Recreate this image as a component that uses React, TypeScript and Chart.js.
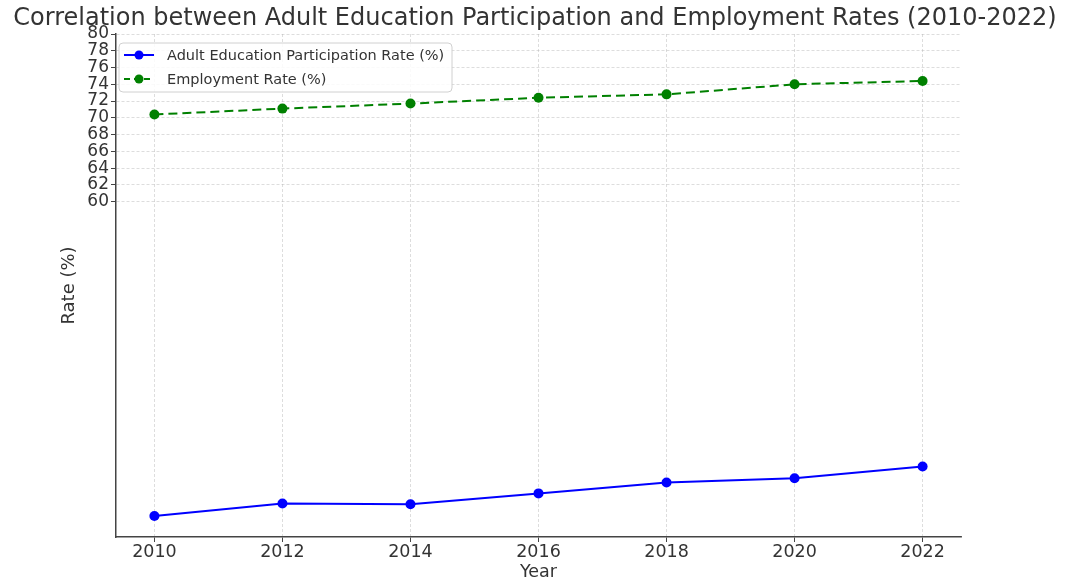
import React, { useEffect, useRef } from 'react';
import { Chart, registerables } from 'chart.js';

Chart.register(...registerables);

const years = [2010, 2012, 2014, 2016, 2018, 2020, 2022];
const educationRate = [22.5, 24.0, 23.9, 25.2, 26.5, 27.0, 28.4];
const employmentRate = [70.4, 71.1, 71.7, 72.4, 72.8, 74.0, 74.4];
const yTickValues = [60, 62, 64, 66, 68, 70, 72, 74, 76, 78, 80];
const xTickValues = [2010, 2012, 2014, 2016, 2018, 2020, 2022];
const seriesLabels = ['Adult Education Participation Rate (%)', 'Employment Rate (%)'];
const chartTitle = 'Correlation between Adult Education Participation and Employment Rates (2010-2022)';

const FONT = '"DejaVu Sans", "Liberation Sans", sans-serif';
const TEXT = '#333333';
const BLUE = '#0000ff';
const GREEN = '#008000';
const GRID = 'rgba(176,176,176,0.55)';

const titlePlugin = {
  id: 'canvasTitle',
  afterDraw(chart: any) {
    const ctx = chart.ctx;
    ctx.save();
    ctx.fillStyle = TEXT;
    ctx.font = `24px ${FONT}`;
    ctx.textAlign = 'center';
    ctx.textBaseline = 'middle';
    ctx.fillText(chartTitle, chart.width / 2, 19);
    ctx.restore();
  },
};

const legendPlugin = {
  id: 'innerLegend',
  afterDatasetsDraw(chart: any) {
    const ctx = chart.ctx;
    const a = chart.chartArea;
    const x0 = a.left + 3;
    const y0 = a.top + 9;
    const w = 333;
    const h = 49;
    ctx.save();
    ctx.beginPath();
    const r = 4;
    ctx.moveTo(x0 + r, y0);
    ctx.lineTo(x0 + w - r, y0);
    ctx.quadraticCurveTo(x0 + w, y0, x0 + w, y0 + r);
    ctx.lineTo(x0 + w, y0 + h - r);
    ctx.quadraticCurveTo(x0 + w, y0 + h, x0 + w - r, y0 + h);
    ctx.lineTo(x0 + r, y0 + h);
    ctx.quadraticCurveTo(x0, y0 + h, x0, y0 + h - r);
    ctx.lineTo(x0, y0 + r);
    ctx.quadraticCurveTo(x0, y0, x0 + r, y0);
    ctx.closePath();
    ctx.fillStyle = 'rgba(255,255,255,0.85)';
    ctx.fill();
    ctx.strokeStyle = '#d0d0d0';
    ctx.lineWidth = 1;
    ctx.stroke();

    const rows = [
      { label: seriesLabels[0], color: BLUE, dash: [] as number[], y: y0 + 12 },
      { label: seriesLabels[1], color: GREEN, dash: [6, 4], y: y0 + 36 },
    ];
    rows.forEach((row) => {
      ctx.beginPath();
      ctx.setLineDash(row.dash);
      ctx.strokeStyle = row.color;
      ctx.lineWidth = 2;
      ctx.moveTo(x0 + 5, row.y);
      ctx.lineTo(x0 + 35, row.y);
      ctx.stroke();
      ctx.setLineDash([]);
      ctx.beginPath();
      ctx.arc(x0 + 20, row.y, 4.5, 0, Math.PI * 2);
      ctx.fillStyle = row.color;
      ctx.fill();
      ctx.fillStyle = TEXT;
      ctx.font = `14.5px ${FONT}`;
      ctx.textBaseline = 'middle';
      ctx.textAlign = 'left';
      ctx.fillText(row.label, x0 + 48, row.y + 1);
    });
    ctx.restore();
  },
};

export default function App() {
  const ref = useRef<HTMLCanvasElement | null>(null);
  useEffect(() => {
    if (!ref.current) return;
    Chart.defaults.font.family = FONT;
    const gridOpts = {
      color: GRID,
      lineWidth: 0.8,
      drawTicks: true,
      tickLength: 5,
      tickColor: '#444444',
      tickBorderDash: [],
      tickWidth: 1,
    } as any;
    const chart = new Chart(ref.current, {
      type: 'line',
      data: {
        datasets: [
          {
            label: seriesLabels[0],
            data: years.map((x, i) => ({ x, y: educationRate[i] })),
            borderColor: BLUE,
            backgroundColor: BLUE,
            borderWidth: 2,
            pointRadius: 5,
            pointBackgroundColor: BLUE,
            pointBorderWidth: 0,
            tension: 0,
          },
          {
            label: seriesLabels[1],
            data: years.map((x, i) => ({ x, y: employmentRate[i] })),
            borderColor: GREEN,
            backgroundColor: GREEN,
            borderWidth: 2,
            borderDash: [9, 5],
            pointRadius: 5,
            pointBackgroundColor: GREEN,
            pointBorderWidth: 0,
            tension: 0,
          },
        ],
      },
      options: {
        animation: false,
        responsive: false,
        maintainAspectRatio: false,
        layout: { padding: { left: 0, right: 109, top: 34, bottom: 0 } },
        plugins: {
          legend: { display: false },
          tooltip: { enabled: false },
          title: { display: false },
        },
        scales: {
          x: {
            type: 'linear',
            min: 2009.4,
            max: 2022.6,
            afterBuildTicks: (s: any) => {
              s.ticks = xTickValues.map((v) => ({ value: v }));
            },
            afterFit: (s: any) => {
              s.height = 46;
            },
            ticks: {
              autoSkip: false,
              maxRotation: 0,
              color: TEXT,
              font: { size: 17.5 },
              padding: 0,
              callback: (v: any) => String(v),
            },
            grid: gridOpts,
            border: { display: true, color: '#444444', width: 1.5, dash: [3, 2] },
            title: {
              display: true,
              text: 'Year',
              color: TEXT,
              font: { size: 17.5 },
              padding: { top: 0, bottom: 0 },
            },
          },
          y: {
            type: 'linear',
            min: 20,
            max: 80,
            afterBuildTicks: (s: any) => {
              s.ticks = yTickValues.map((v) => ({ value: v }));
            },
            afterFit: (s: any) => {
              s.width = 116;
            },
            ticks: {
              autoSkip: false,
              color: TEXT,
              font: { size: 17 },
              padding: 2,
            },
            grid: gridOpts,
            border: { display: true, color: '#444444', width: 1.5, dash: [3, 2] },
            title: {
              display: true,
              text: 'Rate (%)',
              color: TEXT,
              font: { size: 18 },
              padding: { top: 59, bottom: 0 },
            },
          },
        },
      },
      plugins: [legendPlugin, titlePlugin],
    } as any);
    return () => chart.destroy();
  }, []);
  return (
    <div style={{ position: 'absolute', left: 0, top: 0, width: 1070, height: 583, background: '#fff' }}>
      <canvas ref={ref} width={1070} height={583} />
    </div>
  );
}
